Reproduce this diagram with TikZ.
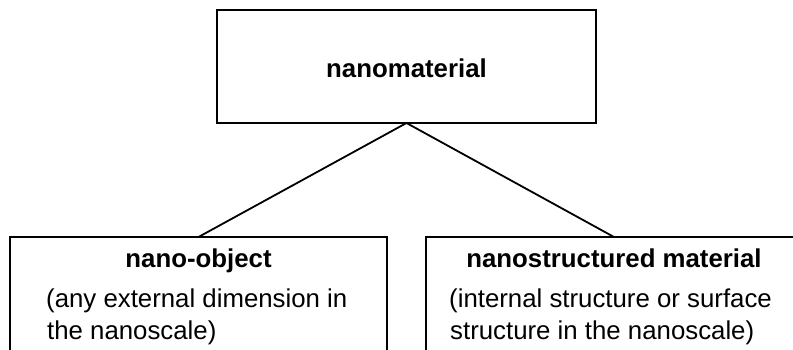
\documentclass[tikz,border=0pt]{standalone}
\usepackage{fontspec}
\setmainfont{Liberation Sans}
\begin{document}
\begin{tikzpicture}[x=1pt,y=-1pt,
  box/.style={draw,line width=1.8pt,rectangle,inner sep=0pt,outer sep=0pt},
  head/.style={font=\fontsize{25.8}{30}\selectfont\bfseries,anchor=base,inner sep=0pt},
  body/.style={font=\fontsize{25.8}{30}\selectfont,anchor=base west,inner sep=0pt},
  link/.style={line width=1.8pt}]
\useasboundingbox (0,0) rectangle (793,349);
\clip (0,0) rectangle (793,349);
\node[box,minimum width=379pt,minimum height=113pt] (top) at (406.5,66.5) {};
\node[box,minimum width=377pt,minimum height=140pt] (left) at (198.5,307) {};
\node[box,minimum width=376pt,minimum height=140pt] (right) at (614,307) {};
\node[head] (t1) at (406.5,77) {nanomaterial};
\node[head] (h1) at (198.5,267) {nano-object};
\node[body] (b1) at (46,307) {(any external dimension in};
\node[body] (b2) at (47,339) {the nanoscale)};
\node[head] (h2) at (614,267) {nanostructured material};
\node[body] (b3) at (449,307) {(internal structure or surface};
\node[body] (b4) at (450,339) {structure in the nanoscale)};
\draw[link] (top.south) -- (left.north);
\draw[link] (top.south) -- (right.north);
\end{tikzpicture}
\end{document}
